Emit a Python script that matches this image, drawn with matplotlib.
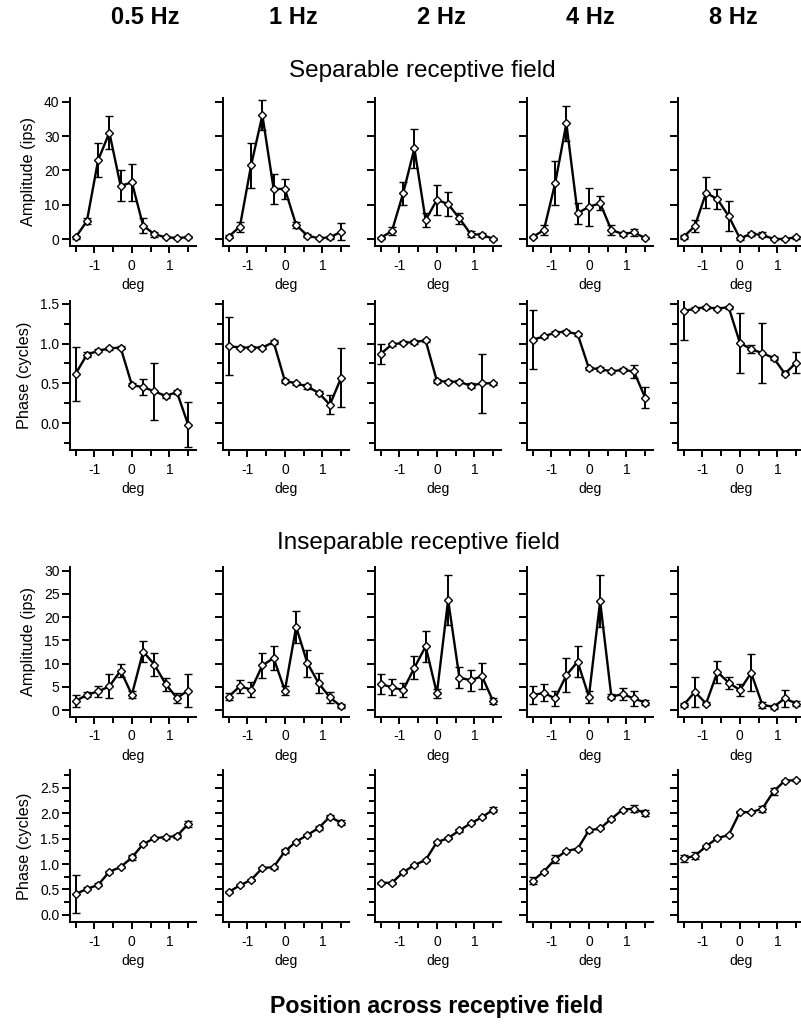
import numpy as np
import matplotlib.pyplot as plt
from matplotlib.ticker import MultipleLocator, FixedLocator

plt.rcParams['font.family'] = ['Liberation Sans', 'DejaVu Sans']

positions = [-1.5, -1.2, -0.9, -0.6, -0.3, 0.0, 0.3, 0.6, 0.9, 1.2, 1.5]
freqs = ['0.5 Hz', '1 Hz', '2 Hz', '4 Hz', '8 Hz']

# separable receptive field, amplitude (ips)
sep_amp = [
    [0.5, 5.2, 23.0, 31.0, 15.5, 16.5, 3.9, 1.4, 0.5, 0.3, 0.5],
    [0.7, 3.6, 21.5, 36.1, 14.6, 14.6, 4.1, 1.0, 0.2, 0.5, 2.1],
    [0.3, 2.3, 13.3, 26.4, 5.5, 11.4, 10.2, 6.0, 1.5, 1.2, 0.1],
    [0.6, 2.6, 16.2, 33.7, 7.5, 9.4, 10.4, 2.6, 1.5, 1.9, 0.3],
    [0.6, 3.8, 13.5, 11.6, 6.7, 0.2, 1.5, 1.2, 0.0, 0.0, 0.5],
]
sep_amp_err = [
    [0.5, 0.8, 5.0, 4.8, 4.5, 5.5, 2.2, 0.7, 0.3, 0.3, 0.3],
    [0.4, 1.5, 6.6, 4.4, 4.4, 2.8, 1.0, 0.5, 0.3, 0.4, 2.5],
    [0.3, 1.2, 3.3, 5.7, 2.0, 4.3, 3.5, 1.5, 0.8, 0.5, 0.3],
    [0.4, 1.5, 6.4, 5.1, 3.1, 5.5, 2.0, 1.5, 0.6, 1.0, 0.3],
    [0.5, 1.8, 4.6, 3.0, 4.5, 0.4, 0.5, 0.7, 0.3, 0.3, 0.4],
]

# separable receptive field, phase (cycles)
sep_phase = [
    [0.62, 0.86, 0.91, 0.94, 0.95, 0.48, 0.45, 0.40, 0.34, 0.39, -0.02],
    [0.97, 0.95, 0.95, 0.95, 1.02, 0.53, 0.50, 0.46, 0.38, 0.23, 0.57],
    [0.87, 0.99, 1.01, 1.02, 1.04, 0.53, 0.52, 0.52, 0.47, 0.50, 0.50],
    [1.05, 1.09, 1.14, 1.15, 1.12, 0.69, 0.68, 0.65, 0.67, 0.65, 0.32],
    [1.41, 1.44, 1.46, 1.44, 1.46, 1.01, 0.93, 0.88, 0.82, 0.62, 0.76],
]
sep_phase_err = [
    [0.34, 0.03, 0.02, 0.02, 0.02, 0.02, 0.10, 0.36, 0.02, 0.02, 0.28],
    [0.36, 0.02, 0.02, 0.02, 0.02, 0.02, 0.02, 0.03, 0.02, 0.12, 0.37],
    [0.13, 0.02, 0.02, 0.02, 0.02, 0.02, 0.02, 0.02, 0.03, 0.37, 0.02],
    [0.37, 0.02, 0.02, 0.02, 0.02, 0.02, 0.02, 0.02, 0.02, 0.08, 0.13],
    [0.36, 0.02, 0.02, 0.02, 0.02, 0.38, 0.05, 0.38, 0.02, 0.02, 0.13],
]

# inseparable receptive field, amplitude (ips)
insep_amp = [
    [1.9, 3.3, 4.0, 5.1, 8.5, 3.3, 12.6, 9.8, 5.6, 2.6, 4.2],
    [2.9, 5.1, 4.4, 9.6, 11.2, 4.2, 17.9, 10.1, 5.8, 2.7, 0.8],
    [5.6, 4.9, 4.3, 9.1, 13.7, 3.6, 23.7, 7.0, 6.4, 7.3, 1.9],
    [3.2, 3.7, 2.5, 7.5, 10.4, 2.9, 23.4, 2.9, 3.4, 2.5, 1.6],
    [1.1, 3.9, 1.4, 8.2, 5.9, 4.3, 8.0, 1.1, 0.7, 2.5, 1.4],
]
insep_amp_err = [
    [1.3, 0.5, 1.1, 2.6, 1.4, 0.8, 2.3, 2.5, 1.4, 1.0, 3.5],
    [0.8, 1.4, 1.7, 2.6, 2.5, 1.0, 3.5, 2.9, 2.2, 1.1, 0.4],
    [2.2, 1.7, 1.5, 2.5, 3.4, 1.0, 5.3, 2.2, 2.3, 2.8, 0.6],
    [2.0, 1.8, 1.7, 3.6, 3.3, 1.3, 5.6, 0.5, 1.3, 1.7, 0.5],
    [0.4, 3.3, 0.4, 2.3, 1.3, 1.3, 4.0, 0.7, 0.4, 1.8, 0.5],
]

# inseparable receptive field, phase (cycles)
insep_phase = [
    [0.41, 0.51, 0.59, 0.85, 0.94, 1.13, 1.39, 1.51, 1.53, 1.55, 1.79],
    [0.45, 0.58, 0.69, 0.92, 0.94, 1.25, 1.44, 1.57, 1.71, 1.93, 1.81],
    [0.63, 0.63, 0.84, 0.98, 1.08, 1.43, 1.51, 1.66, 1.80, 1.92, 2.07],
    [0.67, 0.85, 1.10, 1.26, 1.30, 1.66, 1.70, 1.89, 2.07, 2.09, 2.00],
    [1.11, 1.16, 1.35, 1.51, 1.57, 2.02, 2.02, 2.09, 2.43, 2.64, 2.65],
]
insep_phase_err = [
    [0.37, 0.03, 0.03, 0.02, 0.02, 0.05, 0.02, 0.02, 0.03, 0.04, 0.06],
    [0.02, 0.02, 0.02, 0.02, 0.03, 0.04, 0.02, 0.02, 0.04, 0.03, 0.05],
    [0.02, 0.02, 0.02, 0.02, 0.02, 0.02, 0.02, 0.02, 0.02, 0.02, 0.05],
    [0.07, 0.02, 0.07, 0.02, 0.02, 0.02, 0.02, 0.02, 0.02, 0.07, 0.06],
    [0.06, 0.07, 0.02, 0.02, 0.02, 0.02, 0.02, 0.06, 0.07, 0.02, 0.02],
]

W, H = 801, 1025
col_left = [70, 223, 375, 527, 678]
col_width = 126
# (top px, bottom px, ylim, major step, minor step, label, tick fmt, data, errors)
rows = [
    (98, 246, (-2.04, 41.1), 10, None, 'Amplitude (ips)', '%d', sep_amp, sep_amp_err),
    (301, 450, (-0.34, 1.537), 0.5, 0.25, 'Phase (cycles)', '%.1f', sep_phase, sep_phase_err),
    (567, 717, (-1.5, 30.8), 5, None, 'Amplitude (ips)', '%d', insep_amp, insep_amp_err),
    (770, 922, (-0.14, 2.85), 0.5, 0.25, 'Phase (cycles)', '%.1f', insep_phase, insep_phase_err),
]

fig = plt.figure(figsize=(W / 100, H / 100), dpi=100)

for top, bot, ylim, major, minor, ylabel, fmt, vals, errs in rows:
    for j in range(5):
        ax = fig.add_axes([col_left[j] / W, 1 - bot / H, col_width / W, (bot - top) / H])
        ax.errorbar(positions, vals[j], yerr=errs[j], color='black', lw=1.7,
                    elinewidth=1.4, capsize=2.8, capthick=1.4,
                    marker='D', markersize=4.4, markerfacecolor='white',
                    markeredgecolor='black', markeredgewidth=1.0)
        ax.set_xlim(-1.65, 1.71)
        ax.set_ylim(*ylim)
        for s in ['top', 'right']:
            ax.spines[s].set_visible(False)
        for s in ['left', 'bottom']:
            ax.spines[s].set_linewidth(1.4)
        ax.xaxis.set_major_locator(FixedLocator([-1, 0, 1]))
        ax.xaxis.set_minor_locator(FixedLocator([-1.5, -0.5, 0.5, 1.5]))
        ax.yaxis.set_major_locator(MultipleLocator(major))
        if minor:
            ax.yaxis.set_minor_locator(MultipleLocator(minor))
        ax.tick_params(axis='x', which='major', direction='out', length=5,
                       width=1.4, labelsize=10, pad=4)
        ax.tick_params(axis='x', which='minor', direction='out', length=4, width=1.4)
        ax.tick_params(axis='y', which='major', direction='out', length=6,
                       width=1.4, labelsize=10, pad=1.5)
        ax.tick_params(axis='y', which='minor', direction='out', length=4, width=1.4)
        ax.set_xticklabels(['-1', '0', '1'])
        ax.set_xlabel('deg', fontsize=10, labelpad=4)
        if j == 0:
            ax.yaxis.set_major_formatter(plt.FormatStrFormatter(fmt))
            ax.set_ylabel(ylabel, fontsize=11.7, labelpad=6)
        else:
            ax.set_yticklabels([])

title_x = [145, 293, 441, 590, 733]
for x, f in zip(title_x, freqs):
    fig.text(x / W, 1 - 17.5 / H, f, ha='center', va='center',
             fontsize=17, fontweight='bold')

fig.text(422 / W, 1 - 71 / H, 'Separable receptive field', ha='center',
         va='center', fontsize=17.5)
fig.text(418 / W, 1 - 543 / H, 'Inseparable receptive field', ha='center',
         va='center', fontsize=17.5)
fig.text(437 / W, 1 - 1007 / H, 'Position across receptive field', ha='center',
         va='center', fontsize=16.7, fontweight='bold')

fig.savefig('out.png', dpi=100)
